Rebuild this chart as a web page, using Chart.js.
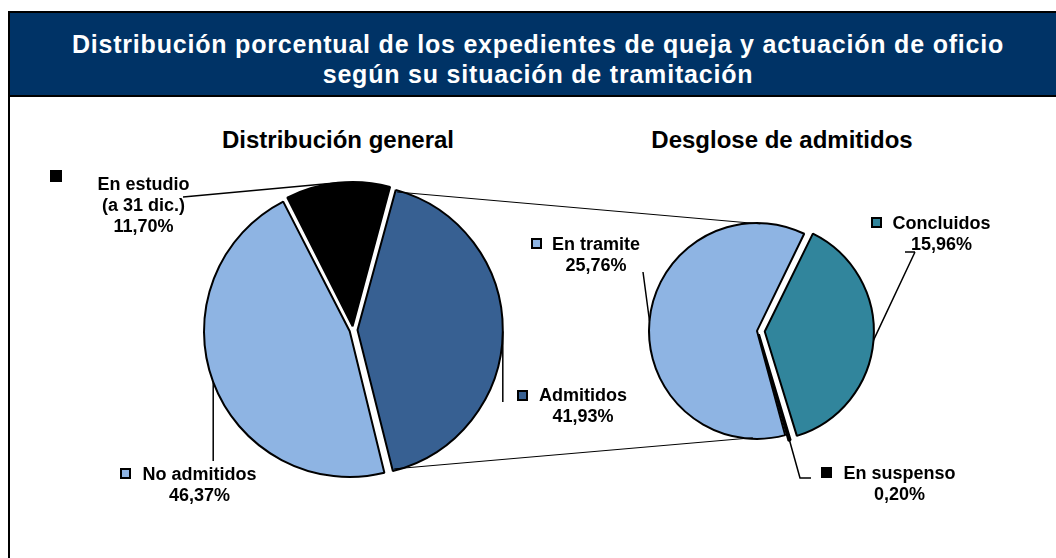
<!DOCTYPE html>
<html>
<head>
<meta charset="utf-8">
<script src="https://cdn.jsdelivr.net/npm/chart.js@4.4.1/dist/chart.umd.min.js"></script>
<style>
body { margin: 0; background: #fff; font-family: "Liberation Sans", Arial, sans-serif; font-weight: bold; }
#wrap { position: relative; width: 1056px; height: 558px; overflow: hidden; }
#frame { position: absolute; left: 8px; top: 11px; width: 1100px; height: 600px; border: 2px solid #000; }
#head { position: absolute; left: 10px; top: 13px; width: 1056px; height: 82px; background: #003366; border-bottom: 2px solid #000; }
#title { position: absolute; left: 10px; top: 29px; width: 1056px; text-align: center; color: #fff; font-size: 25px; letter-spacing: 0.8px; line-height: 30px; }
.sub { position: absolute; top: 127px; width: 400px; text-align: center; font-size: 24px; line-height: 26px; color: #000; }
canvas { position: absolute; left: 0; top: 0; }
.lbl { position: absolute; width: 200px; text-align: center; font-size: 18px; line-height: 21px; color: #000; white-space: nowrap; }
.key { position: absolute; width: 11px; height: 11px; box-sizing: border-box; border: 2px solid #000; }
</style>
</head>
<body>
<div id="wrap">
  <div id="frame"></div>
  <div id="head"></div>
  <div id="title">Distribución porcentual de los expedientes de queja y actuación de oficio<br>según su situación de tramitación</div>
  <div class="sub" style="left:138px">Distribución general</div>
  <div class="sub" style="left:582px">Desglose de admitidos</div>
  <canvas id="pieGeneral" width="1056" height="558"></canvas>
  <canvas id="pieAdmit" width="1056" height="558"></canvas>
</div>
<script>
// Distribucion general
var generalLabels = ['En estudio', 'Admitidos', 'No admitidos'];
var generalValues = [11.70, 41.93, 46.37];
var generalColors = ['#000000', '#376092', '#8EB4E3'];

// Desglose de admitidos
var admitLabels = ['Concluidos', 'En suspenso', 'En tramite'];
var admitValues = [15.96, 0.20, 25.76];
var admitColors = ['#31859C', '#000000', '#8EB4E3'];

function pct(v) {
    return v.toFixed(2).replace('.', ',') + '%';
}

// desplazamiento real que aplica Chart.js al dibujar un sector con offset
function shift(arc) {
    var off = (arc.options.offset || 0) / 4;
    var circ = arc.endAngle - arc.startAngle;
    var fix = 1 - Math.sin(Math.min(Math.PI, circ));
    var d = off + off * fix;
    var half = (arc.startAngle + arc.endAngle) / 2;
    return { x: arc.x + Math.cos(half) * d, y: arc.y + Math.sin(half) * d };
}

function arcPoint(arc, angle) {
    var c = shift(arc);
    return { x: c.x + Math.cos(angle) * arc.outerRadius, y: c.y + Math.sin(angle) * arc.outerRadius };
}

function midPoint(arc) {
    return arcPoint(arc, (arc.startAngle + arc.endAngle) / 2);
}

var ctx = document.getElementById('pieGeneral').getContext('2d');
var chartGeneral = new Chart(ctx, {
    type: 'pie',
    data: {
        labels: generalLabels,
        datasets: [{
            data: generalValues,
            backgroundColor: generalColors,
            borderColor: '#000',
            borderWidth: 2,
            offset: [15, 18, 14],
            radius: 143
        }]
    },
    options: {
        responsive: false,
        animation: false,
        rotation: -27,
        layout: { padding: { left: 0, right: 350, top: 102, bottom: 0 } },
        plugins: { legend: { display: false }, tooltip: { enabled: false } }
    }
});

var connectors = {
    id: 'connectors',
    afterDraw: function(chart) {
        var c = chart.ctx;
        var g = chartGeneral.getDatasetMeta(0).data;
        var a = chart.getDatasetMeta(0).data;
        c.save();
        c.strokeStyle = '#000';

        // lineas entre admitidos y el desglose
        c.lineWidth = 1;
        var tramite = a[2];
        var p1 = arcPoint(g[1], g[1].startAngle);
        var p2 = arcPoint(g[1], g[1].endAngle);
        var q1 = arcPoint(tramite, -Math.PI / 2 + 0.04);
        var q2 = arcPoint(tramite, Math.PI / 2 + 0.03);
        c.beginPath();
        c.moveTo(p1.x, p1.y); c.lineTo(q1.x, q1.y);
        c.moveTo(p2.x, p2.y); c.lineTo(q2.x, q2.y);
        c.stroke();

        // lineas guia de las etiquetas
        c.lineWidth = 1.5;
        c.beginPath();
        var m = midPoint(g[0]);
        c.moveTo(183, 197); c.lineTo(m.x, m.y);
        m = midPoint(g[1]);
        c.moveTo(m.x, m.y); c.lineTo(m.x, 402);
        m = midPoint(g[2]);
        c.moveTo(m.x, m.y); c.lineTo(m.x, 461);
        m = midPoint(a[2]);
        c.moveTo(643, 272); c.lineTo(m.x, m.y);
        m = midPoint(a[0]);
        c.moveTo(915, 252); c.lineTo(905, 252);
        c.moveTo(915, 252); c.lineTo(m.x, m.y);
        m = midPoint(a[1]);
        c.moveTo(m.x, m.y); c.lineTo(800, 478); c.lineTo(811, 478);
        c.stroke();
        c.restore();
    }
};

var ctx2 = document.getElementById('pieAdmit').getContext('2d');
var chartAdmit = new Chart(ctx2, {
    type: 'pie',
    data: {
        labels: admitLabels,
        datasets: [{
            data: admitValues,
            backgroundColor: admitColors,
            borderColor: '#000',
            borderWidth: 2,
            offset: [27, 14, 4],
            radius: 107
        }]
    },
    options: {
        responsive: false,
        animation: false,
        rotation: 26,
        layout: { padding: { left: 460, right: 0, top: 104, bottom: 0 } },
        plugins: { legend: { display: false }, tooltip: { enabled: false } }
    },
    plugins: [connectors]
});

// etiquetas de datos (texto centrado + cuadro de leyenda)
var wrap = document.getElementById('wrap');
function addLabel(lines, cx, top, key, color, keySize) {
    var d = document.createElement('div');
    d.className = 'lbl';
    d.style.left = (cx - 100) + 'px';
    d.style.top = top + 'px';
    d.innerHTML = lines.join('<br>');
    wrap.appendChild(d);
    var k = document.createElement('div');
    k.className = 'key';
    k.style.left = key[0] + 'px';
    k.style.top = key[1] + 'px';
    k.style.background = color;
    if (keySize) { k.style.width = keySize + 'px'; k.style.height = keySize + 'px'; }
    wrap.appendChild(k);
}

addLabel([generalLabels[0], '(a 31 dic.)', pct(generalValues[0])], 143.5, 174, [50, 170], generalColors[0], 12);
addLabel([generalLabels[1], pct(generalValues[1])], 583, 385, [517, 390], generalColors[1]);
addLabel([generalLabels[2], pct(generalValues[2])], 199.5, 464, [120, 468], generalColors[2]);
addLabel([admitLabels[2], pct(admitValues[2])], 596, 234, [531, 238], admitColors[2]);
addLabel([admitLabels[0], pct(admitValues[0])], 941.5, 213, [871, 217], admitColors[0]);
addLabel([admitLabels[1], pct(admitValues[1])], 899.5, 463, [821, 467], admitColors[1]);
</script>
</body>
</html>
